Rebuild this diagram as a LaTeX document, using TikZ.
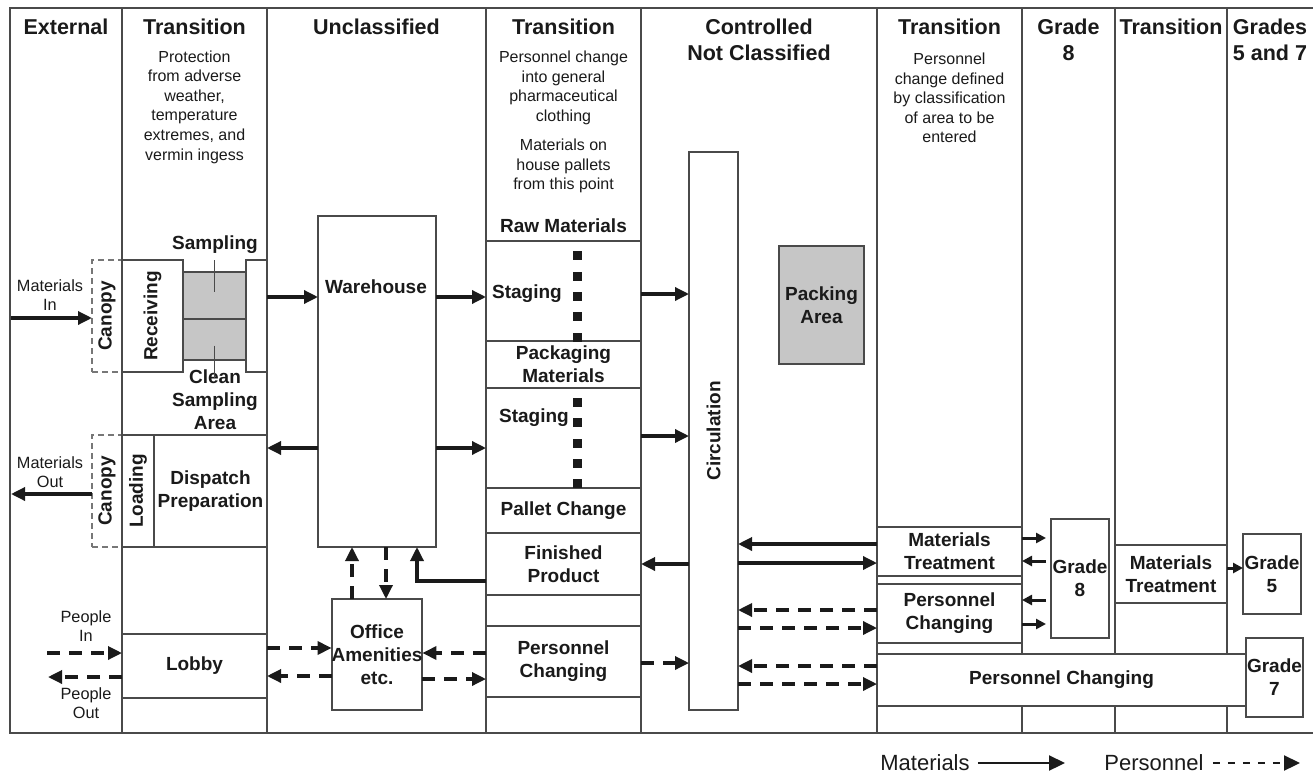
\documentclass[tikz,border=0pt]{standalone}
\usepackage{fontspec}
\setmainfont{Liberation Sans}
\usetikzlibrary{arrows.meta,calc}
\definecolor{ink}{HTML}{1A1A1A}
\definecolor{rule}{HTML}{4A4A4A}
\definecolor{shade}{HTML}{C6C6C6}

\tikzset{
  wall/.style={draw=rule,line width=1.9pt},
  zone/.style={draw=rule,line width=1.9pt,fill=white,inner sep=0pt,outer sep=0pt,
    align=center,text=ink,font=\bfseries\fontsize{19}{22.8}\selectfont},
  shaded/.style={fill=shade},
  porch/.style={draw=rule!75,fill=none,line width=1.5pt,dash pattern=on 6pt off 4pt},
  colhead/.style={font=\bfseries\fontsize{21.5}{26}\selectfont,text=ink,inner sep=0pt,align=center},
  descr/.style={font=\fontsize{16}{19.6}\selectfont,text=ink,align=center,inner sep=0pt},
  lbl/.style={font=\bfseries\fontsize{19}{22.8}\selectfont,text=ink,align=center,inner sep=0pt},
  margtext/.style={font=\fontsize{16.3}{19.5}\selectfont,text=ink,align=center,inner sep=0pt},
  leader/.style={draw=rule,line width=1.5pt},
  matflow/.style={draw=ink,line width=3.3pt,-{Triangle[length=14pt,width=13pt]}},
  perflow/.style={matflow,dash pattern=on 13pt off 9pt},
  matshort/.style={draw=ink,line width=3pt,-{Triangle[length=10pt,width=10pt]}},
  legmat/.style={draw=ink,line width=2.2pt,-{Triangle[length=16pt,width=15pt]}},
  legper/.style={legmat,dash pattern=on 7pt off 8pt},
  legtext/.style={font=\fontsize{22}{26}\selectfont,text=ink,inner sep=0pt},
}

% box spanning (x1,y1)-(x2,y2): [options]{name}{x1}{y1}{x2}{y2}{text}
\newcommand\areabox[7][]{%
  \pgfmathsetmacro\abw{#5-#3}%
  \pgfmathsetmacro\abh{#6-#4}%
  \node[zone,#1,minimum width=\abw pt,minimum height=\abh pt] (#2)
    at ({(#3+#5)/2},{(#4+#6)/2}) {#7};%
}

\begin{document}
\begin{tikzpicture}[x=1pt,y=-1pt]
\useasboundingbox (0,0) rectangle (1313,773);

% outer frame and zone walls
\draw[wall] (1320,8) -- (10,8) -- (10,733) -- (1320,733);
\foreach \x in {122,267,486,641,877,1022,1115,1227}
  \draw[wall] (\x,8) -- (\x,733);

% column headings
\node[colhead] (hExt)  at (66,27)     {External};
\node[colhead] (hTrA)  at (194.5,27)  {Transition};
\node[colhead] (hUnc)  at (376.5,27)  {Unclassified};
\node[colhead] (hTrB)  at (563.5,27)  {Transition};
\node[colhead] (hCnc)  at (759,40)    {Controlled\\Not Classified};
\node[colhead] (hTrC)  at (949.5,27)  {Transition};
\node[colhead] (hGE)   at (1068.5,40) {Grade\\8};
\node[colhead] (hTrD)  at (1171,27)   {Transition};
\node[colhead] (hGFS)  at (1270,40)   {Grades\\5 and 7};

% column notes
\node[descr] (nTrA)  at (194.5,107) {Protection\\from adverse\\weather,\\temperature\\extremes, and\\vermin ingess};
\node[descr] (nTrB1) at (563.5,88)  {Personnel change\\into general\\pharmaceutical\\clothing};
\node[descr] (nTrB2) at (563.5,166) {Materials on\\house pallets\\from this point};
\node[descr] (nTrC)  at (949.5,98)  {Personnel\\change defined\\by classification\\of area to be\\entered};

% goods-in block
\areabox[porch]{canopyIn}{92}{260}{122}{372}{}
\areabox{receiving}{122}{260}{183}{372}{}
\areabox[shaded]{sampling}{183}{272}{246}{319}{}
\areabox[shaded]{cleansamp}{183}{319}{246}{360}{}
\areabox{sampexit}{246}{260}{267}{372}{}
\node[lbl,rotate=90] (lCanIn) at (canopyIn.center) {Canopy};
\node[lbl,rotate=90] (lRecv) at (receiving.center) {Receiving};
\node[lbl] (lSamp) at (215,245) {Sampling};
\node[lbl] (lClean) at (215,400) {Clean\\Sampling\\Area};
\draw[leader] ($(sampling.north)+(0,-12)$) -- ($(sampling.center)+(0,-4)$);
\draw[leader] ($(cleansamp.center)+(0,6)$) -- ($(cleansamp.south)+(0,18)$);

% goods-out block
\areabox[porch]{canopyOut}{92}{435}{122}{547}{}
\areabox{loading}{122}{435}{154}{547}{}
\areabox{dispatch}{154}{435}{267}{547}{Dispatch\\Preparation}
\node[lbl,rotate=90] (lCanOut) at (canopyOut.center) {Canopy};
\node[lbl,rotate=90] (lLoad) at (loading.center) {Loading};

% lobby and people
\areabox{lobby}{122}{634}{267}{698}{Lobby}
\node[margtext] (lMatIn)  at (50,295)  {Materials\\In};
\node[margtext] (lMatOut) at (50,472)  {Materials\\Out};
\node[margtext] (lPplIn)  at (86,626)  {People\\In};
\node[margtext] (lPplOut) at (86,703)  {People\\Out};

% unclassified
\areabox{warehouse}{318}{216}{436}{547}{}
\node[lbl] (lWh) at (376,287) {Warehouse};
\areabox{office}{332}{599}{422}{710}{Office\\Amenities\\etc.}

% pharmaceutical clothing transition
\node[lbl] (lRaw) at (563.5,226) {Raw Materials};
\areabox{staging1}{486}{241}{641}{341}{}
\areabox{packmat}{486}{341}{641}{388}{Packaging\\Materials}
\areabox{staging2}{486}{388}{641}{488}{}
\areabox{pallet}{486}{488}{641}{533}{Pallet Change}
\areabox{finished}{486}{533}{641}{595}{Finished\\Product}
\areabox{spare}{486}{595}{641}{626}{}
\areabox{pcA}{486}{626}{641}{697}{Personnel\\Changing}
\node[lbl] (lStgA) at (527,294) {Staging};
\node[lbl] (lStgB) at (534,418) {Staging};
\foreach \y in {255,276,296,316,337}
  \fill[ink] (573,\y-4.5) rectangle ++(9,9);
\foreach \y in {402,422,443,463,483}
  \fill[ink] (573,\y-4.5) rectangle ++(9,9);

% controlled not classified
\areabox{circ}{689}{152}{738}{710}{}
\node[lbl,rotate=90] (lCirc) at (circ.center) {Circulation};
\areabox[shaded]{packing}{779}{246}{864}{364}{Packing\\Area}

% classified side
\areabox{mtA}{877}{527}{1022}{576}{Materials\\Treatment}
\areabox{pcB}{877}{584}{1022}{643}{Personnel\\Changing}
\areabox{pcC}{877}{654}{1246}{706}{Personnel Changing}
\areabox{gradeE}{1051}{519}{1109}{638}{Grade\\8}
\areabox{mtB}{1115}{545}{1227}{603}{Materials\\Treatment}
\areabox{gradeF}{1243}{534}{1301}{614}{Grade\\5}
\areabox{gradeS}{1246}{638}{1303}{717}{Grade\\7}

% materials flow
\coordinate (extIn) at (11,318);
\draw[matflow] (extIn) -- (canopyIn.west |- extIn);
\coordinate (extOut) at (11,494);
\draw[matflow] (canopyOut.west |- extOut) -- (extOut);
\coordinate (r297) at (0,297);
\draw[matflow] (sampexit.east |- r297) -- (warehouse.west |- r297);
\draw[matflow] (warehouse.east |- r297) -- (staging1.west |- r297);
\coordinate (r448) at (0,448);
\draw[matflow] (warehouse.west |- r448) -- (dispatch.east |- r448);
\draw[matflow] (warehouse.east |- r448) -- (staging2.west |- r448);
\coordinate (r294) at (0,294);
\draw[matflow] (staging1.east |- r294) -- (circ.west |- r294);
\coordinate (r436) at (0,436);
\draw[matflow] (staging2.east |- r436) -- (circ.west |- r436);
\coordinate (r564) at (0,564);
\draw[matflow] (circ.west |- r564) -- (finished.east |- r564);
\coordinate (c417) at (417,581);
\draw[matflow] (finished.west |- c417) -- (c417) -- (warehouse.south -| c417);
\coordinate (r544) at (0,544);
\draw[matflow] (mtA.west |- r544) -- (circ.east |- r544);
\coordinate (r563) at (0,563);
\draw[matflow] (circ.east |- r563) -- (mtA.west |- r563);
\coordinate (r538) at (0,538);
\draw[matshort,shorten >=5pt] (mtA.east |- r538) -- (gradeE.west |- r538);
\coordinate (r561) at (0,561);
\draw[matshort,shorten <=5pt] (gradeE.west |- r561) -- (mtA.east |- r561);
\coordinate (r600) at (0,600);
\draw[matshort,shorten <=5pt] (gradeE.west |- r600) -- (pcB.east |- r600);
\coordinate (r624) at (0,624);
\draw[matshort,shorten >=5pt] (pcB.east |- r624) -- (gradeE.west |- r624);
\coordinate (r568) at (0,568);
\draw[matshort] (mtB.east |- r568) -- (gradeF.west |- r568);

% personnel flow
\coordinate (pplIn) at (47,653);
\draw[perflow] (pplIn) -- (lobby.west |- pplIn);
\coordinate (pplOut) at (48,677);
\draw[perflow] (lobby.west |- pplOut) -- (pplOut);
\coordinate (r648) at (0,648);
\draw[perflow] (lobby.east |- r648) -- (office.west |- r648);
\coordinate (r676) at (0,676);
\draw[perflow] (office.west |- r676) -- (lobby.east |- r676);
\coordinate (r653) at (0,653);
\draw[perflow] (pcA.west |- r653) -- (office.east |- r653);
\coordinate (r679) at (0,679);
\draw[perflow] (office.east |- r679) -- (pcA.west |- r679);
\coordinate (c352) at (352,0);
\draw[perflow] (office.north -| c352) -- (warehouse.south -| c352);
\coordinate (c386) at (386,0);
\draw[perflow] (warehouse.south -| c386) -- (office.north -| c386);
\coordinate (r663) at (0,663);
\draw[perflow] (pcA.east |- r663) -- (circ.west |- r663);
\coordinate (r610) at (0,610);
\draw[perflow] (pcB.west |- r610) -- (circ.east |- r610);
\coordinate (r628) at (0,628);
\draw[perflow] (circ.east |- r628) -- (pcB.west |- r628);
\coordinate (r666) at (0,666);
\draw[perflow] (pcC.west |- r666) -- (circ.east |- r666);
\coordinate (r684) at (0,684);
\draw[perflow] (circ.east |- r684) -- (pcC.west |- r684);

% legend
\node[legtext] (legMat) at (925,763) {Materials};
\coordinate (legMatEnd) at (1065,763);
\draw[legmat,shorten <=8pt] (legMat.east) -- (legMatEnd);
\node[legtext] (legPer) at (1154,763) {Personnel};
\coordinate (legPerEnd) at (1300,763);
\draw[legper,shorten <=9pt] (legPer.east) -- (legPerEnd);
\end{tikzpicture}
\end{document}
